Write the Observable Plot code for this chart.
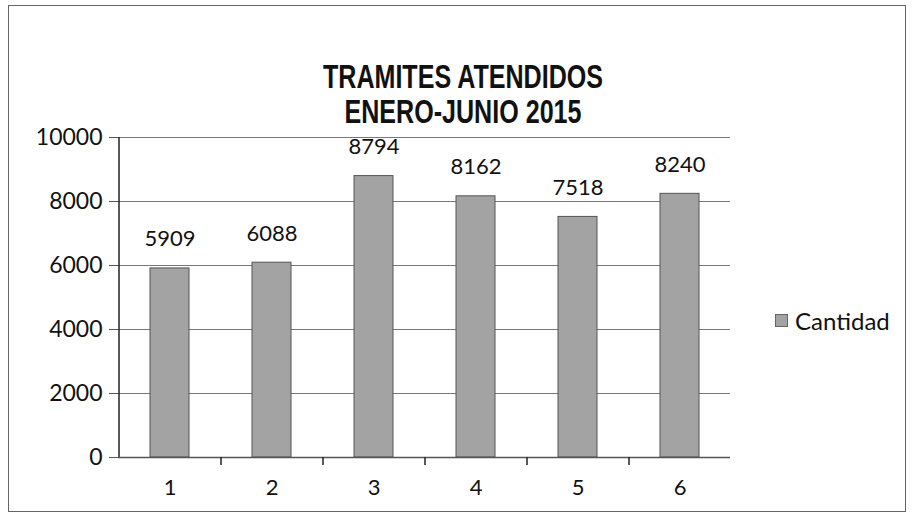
<!DOCTYPE html>
<html>
<head>
<meta charset="utf-8">
<script src="https://cdn.jsdelivr.net/npm/d3@7"></script>
<script src="https://cdn.jsdelivr.net/npm/@observablehq/plot@0.6"></script>
<style>
  html, body { margin: 0; padding: 0; background: #fff; }
  #wrap { position: relative; width: 912px; height: 525px; overflow: hidden; }
  #frame { position: absolute; left: 8px; top: 5px; width: 898px; height: 507px; border: 1.5px solid #666; box-sizing: border-box; }
  #title { position: absolute; left: 0; top: 59px; width: 926px; text-align: center;
    font-family: "Liberation Sans", Arial, sans-serif; font-weight: bold;
    font-size: 33px; line-height: 35px; color: #111; transform: scaleX(0.76); transform-origin: 463px 0; }
  #chart { position: absolute; left: 0; top: 0; }
  #legend { position: absolute; left: 775px; top: 306px; font-family: Lato, "Open Sans", sans-serif; font-size: 24px; color: #111; display: flex; align-items: center; }
  #legend span.sw { display: inline-block; width: 11px; height: 11px; background: #a3a3a3; border: 1px solid #666; margin-right: 7px; }
</style>
</head>
<body>
<div id="wrap">
  <div id="frame"></div>
  <div id="title">TRAMITES ATENDIDOS<br>ENERO-JUNIO 2015</div>
  <div id="chart"></div>
  <div id="legend"><span class="sw"></span>Cantidad</div>
</div>
<script>
const categories = ["1", "2", "3", "4", "5", "6"];
const cantidad = [5909, 6088, 8794, 8162, 7518, 8240];
const yTicks = [0, 2000, 4000, 6000, 8000, 10000];
const seriesName = "Cantidad";

const data = categories.map((c, i) => ({mes: c, valor: cantidad[i]}));

const plotWidth = 730;
const marginLeft = 118;
const step = (plotWidth - marginLeft) / categories.length;

const chart = Plot.plot({
  width: plotWidth,
  height: 500,
  marginTop: 137,
  marginBottom: 43,
  marginLeft: marginLeft,
  marginRight: 0,
  style: {fontFamily: "Lato, 'Open Sans', sans-serif", fontSize: "22px", color: "#111", background: "transparent"},
  x: {domain: categories, paddingInner: 0.62, paddingOuter: 0.31, label: null},
  y: {domain: [0, 10000], ticks: yTicks, label: null},
  marks: [
    Plot.gridY(yTicks, {stroke: "#777", strokeOpacity: 1, strokeWidth: 1}),
    Plot.axisY(yTicks, {tickSize: 9, tickPadding: 7, stroke: "#555", fontSize: 23, tickFormat: d => String(d)}),
    Plot.barY(data, {x: "mes", y: "valor", fill: "#a3a3a3", stroke: "#555", strokeWidth: 1}),
    Plot.text(data, {x: "mes", y: "valor", text: d => String(d.valor), dy: -22, lineAnchor: "bottom", fontSize: 22, fill: "#111"}),
    Plot.ruleX([categories[0]], {dx: -step / 2, stroke: "#222", strokeWidth: 1.5}),
    Plot.ruleY([0], {stroke: "#555", strokeWidth: 1.5}),
    Plot.ruleX(categories, {x: d => d, dx: step / 2, y1: 0, y2: 0, insetBottom: -8, stroke: "#222", strokeWidth: 1.5}),
    Plot.axisX({tickSize: 0, tickPadding: 22, fontSize: 22})
  ]
});
document.getElementById("chart").appendChild(chart);
</script>
</body>
</html>
